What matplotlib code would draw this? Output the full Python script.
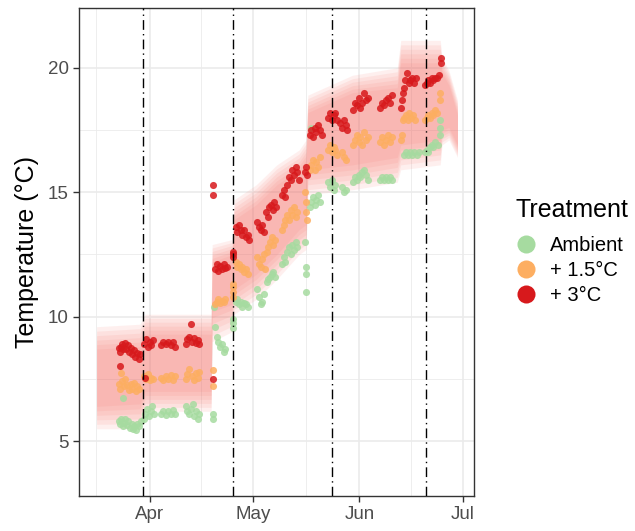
import matplotlib
matplotlib.use('Agg')
import matplotlib.pyplot as plt
import matplotlib.dates as mdates
from matplotlib.lines import Line2D
import numpy as np
from datetime import datetime

plt.rcParams['font.family'] = ['Liberation Sans', 'DejaVu Sans']

# all x values are days after 1 March
START = datetime(2019, 3, 1)

# --- Ambient ---
amb_day = [22.0, 22.4, 22.8, 23.2, 23.6, 24.0, 24.4, 24.8, 25.3, 25.8, 26.2, 26.6, 27.0, 27.5, 28.0, 28.5, 23.2,
           29.3, 29.8, 30.3, 30.8, 31.3, 31.8, 32.2,
           34.3, 35.0, 35.7, 36.4, 37.1, 37.8, 38.5,
           41.5, 42.0, 42.5, 43.0, 43.5, 44.0, 44.5, 45.0, 45.5,
           49.5, 49.5, 49.6, 50.0, 50.5, 51.0, 51.5, 52.0, 52.5, 53.0,
           55.3, 55.3, 55.2,
           56.0, 56.5, 57.0, 57.5, 58.0, 58.5, 59.0, 59.5,
           62.3, 62.8, 63.3, 63.8, 64.3,
           65.0, 65.5, 66.0, 66.5, 67.0, 67.5,
           69.5, 70.0, 70.5, 71.0, 71.5, 72.0, 72.5, 73.0, 73.5, 74.0,
           76.3, 76.4, 76.5, 76.6,
           77.5, 78.0, 78.5, 79.0, 79.5, 80.0, 80.5, 78.0,
           83.0, 83.5, 84.0, 84.5, 85.0, 87.0, 87.5, 88.0,
           90.2, 90.7, 91.2, 91.8, 92.3, 92.8, 93.3, 93.8, 94.4,
           98.0, 98.6, 99.2, 99.8, 100.4, 101.0, 101.6,
           105.0, 105.6, 106.2, 106.8, 107.4, 108.0, 108.6, 109.2,
           111.0, 111.5, 112.0, 112.5, 113.0, 113.5, 114.0, 114.7, 115.4, 115.5, 115.5]
amb_temp = [5.8, 5.7, 5.9, 5.6, 5.75, 5.9, 5.65, 5.8, 5.55, 5.7, 5.5, 5.6, 5.45, 5.7, 5.6, 5.8, 6.75,
            5.9, 6.1, 6.3, 6.0, 6.2, 6.4, 6.1,
            6.1, 6.2, 6.05, 6.2, 6.1, 6.25, 6.1,
            6.4, 6.2, 6.1, 6.3, 6.5, 6.0, 6.2, 5.9, 6.1,
            6.1, 5.9, 10.4, 9.6, 9.2, 9.0, 8.8, 8.9, 8.6, 8.7,
            9.75, 9.55, 9.9,
            10.6, 10.7, 10.5, 10.6, 10.4, 10.55, 10.5, 10.4,
            11.1, 10.8, 10.5, 10.6, 10.9,
            11.4, 11.5, 11.6, 11.7, 11.8, 11.6,
            12.1, 12.4, 12.2, 12.6, 12.8, 12.5, 12.9, 12.7, 13.0, 12.8,
            13.0, 12.0, 11.7, 11.0,
            14.4, 14.6, 14.8, 14.5, 14.7, 14.9, 14.6, 17.6,
            15.4, 15.2, 15.5, 15.1, 15.3, 15.2, 15.0, 15.1,
            15.4, 15.6, 15.5, 15.7, 15.6, 15.8, 15.9, 15.7, 15.5,
            15.5, 15.6, 15.5, 15.6, 15.5, 15.6, 15.5,
            16.5, 16.6, 16.5, 16.6, 16.5, 16.6, 16.5, 16.6,
            16.6, 16.7, 16.6, 16.8, 16.9, 16.8, 17.0, 16.9, 17.3, 17.6, 17.9]

# --- + 1.5°C ---
mid_day = [22.0, 22.5, 23.0, 23.5, 24.0, 24.5, 25.0, 25.5, 26.0, 26.5, 27.0, 27.5, 28.0, 22.8,
           29.5, 30.0, 30.5, 31.0, 31.5, 32.0,
           34.3, 35.0, 35.7, 36.4, 37.1, 37.8, 38.5,
           41.5, 42.0, 42.6, 43.2, 43.8, 44.4, 45.0, 45.5,
           49.5, 49.5,
           50.0, 50.5, 51.0, 51.5, 52.0, 52.5, 53.0,
           55.2, 55.3, 55.3, 55.4,
           56.0, 56.5, 57.0, 57.5, 58.0, 58.5, 59.0, 59.5,
           62.3, 62.8, 63.3, 63.8, 64.3, 64.5,
           65.0, 65.5, 66.0, 66.5, 67.0, 67.5,
           69.5, 70.0, 70.5, 71.0, 71.5, 72.0, 72.5, 73.0, 73.5, 74.0,
           76.3, 76.5, 76.6, 76.8,
           77.5, 78.0, 78.5, 79.0, 79.5, 80.0, 80.5,
           83.0, 83.5, 84.0, 84.5, 85.0, 85.5, 87.0, 87.5, 88.0,
           90.2, 90.7, 91.2, 91.8, 92.3, 92.8, 93.3, 93.8, 94.4,
           98.0, 98.6, 99.2, 99.8, 100.4, 101.0, 101.6,
           104.0, 104.3, 104.6, 105.0, 105.5, 106.0, 106.5, 107.0, 107.5, 108.2,
           111.0, 111.5, 112.0, 112.5, 113.0, 113.5, 114.0, 114.6, 115.4, 115.5]
mid_temp = [7.3, 7.1, 7.4, 7.2, 7.5, 7.25, 7.05, 7.3, 7.1, 7.35, 7.0, 7.2, 7.1, 7.75,
            7.6, 7.5, 7.7, 7.45, 7.55, 7.5,
            7.55, 7.45, 7.6, 7.5, 7.65, 7.45, 7.6,
            7.5, 7.7, 7.9, 7.6, 7.45, 7.75, 7.55, 7.8,
            7.85, 7.2,
            10.5, 10.6, 10.7, 10.55, 10.65, 10.6, 10.7,
            11.3, 11.0, 10.8, 11.2,
            12.2, 12.0, 12.1, 11.9, 12.0, 11.8, 11.9, 11.7,
            12.4, 12.1, 12.0, 12.3, 12.5, 11.9,
            12.6, 12.8, 13.0, 13.2, 12.9, 13.1,
            13.5, 13.7, 13.9, 14.1, 13.9, 14.3, 14.1, 14.4, 14.0, 14.2,
            15.0, 14.6, 14.2, 13.9,
            15.9, 16.1, 16.3, 15.9, 16.2, 16.0, 16.4,
            16.7, 16.9, 16.6, 16.8, 16.7, 16.5, 16.6, 16.4, 16.3,
            16.9, 17.1, 17.3, 17.0, 17.2, 16.9, 17.4, 17.1, 17.2,
            17.0, 17.2, 16.9, 17.1, 17.3, 17.0, 17.2,
            17.1, 17.3, 17.9, 18.0, 18.1, 17.9, 18.2, 18.0, 18.1, 17.9,
            17.9, 18.0, 18.1, 18.0, 18.2, 18.1, 18.3, 18.2, 18.7, 19.0]

# --- + 3°C ---
hot_day = [22.0, 22.3, 22.6, 23.0, 23.4, 23.8, 24.2, 24.6, 25.0, 25.5, 26.0, 26.4, 26.9, 27.3, 27.8, 28.2, 22.4, 29.6,
           29.5, 30.0, 30.5, 31.0, 31.5, 32.0,
           34.3, 35.0, 35.7, 36.4, 37.1, 37.8, 38.5,
           41.5, 42.0, 42.6, 43.2, 43.8, 44.4, 45.0, 45.5, 43.0,
           49.5, 49.5, 49.5,
           50.0, 50.5, 51.0, 51.5, 52.0, 52.5, 53.0, 53.5,
           55.2, 55.3, 55.4,
           56.0, 56.5, 57.0, 57.5, 58.0, 58.5, 59.0, 59.5, 60.0,
           62.3, 62.8, 63.3, 63.8, 64.3,
           64.8, 65.3, 65.8, 66.3, 66.8, 67.3, 67.8,
           69.5, 70.0, 70.5, 71.0, 71.5, 72.0, 72.5, 73.0, 73.5, 74.0, 74.5,
           76.3, 76.5, 76.7,
           77.5, 78.0, 78.5, 79.0, 79.5, 80.0, 80.5, 81.0,
           83.0, 83.5, 84.0, 84.5, 85.0, 85.5, 86.5, 87.0, 87.5, 88.0, 88.4,
           90.2, 90.7, 91.2, 91.8, 92.3, 92.8, 93.3, 93.8, 94.4,
           98.0, 98.6, 99.2, 99.8, 100.4, 101.0, 101.6,
           104.0, 104.3, 104.6, 104.9, 105.2, 105.8, 106.3, 106.8, 107.3, 107.8, 108.4,
           111.0, 111.5, 112.0, 112.5, 113.0, 113.5, 114.0, 114.5, 115.2, 115.6, 115.7]
hot_temp = [8.75, 8.6, 8.8, 8.9, 8.7, 8.95, 8.7, 8.85, 8.6, 8.75, 8.5, 8.65, 8.4, 8.55, 8.3, 8.5, 8.04, 7.55,
            8.9, 9.1, 8.8, 9.0, 8.85, 9.05,
            8.85, 9.0, 8.9, 9.0, 8.85, 9.0, 8.8,
            8.9, 9.1, 9.2, 9.0, 9.15, 8.95, 9.05, 8.9, 9.72,
            7.5, 15.3, 14.9,
            11.9, 12.1, 11.85, 12.05, 11.9, 12.1, 11.95, 12.0,
            12.6, 12.4, 12.5,
            13.6, 13.4, 13.7, 13.5, 13.3, 13.5, 13.2, 13.3, 13.1,
            13.8, 13.6, 13.5, 13.7, 13.4,
            14.2, 14.0, 14.4, 14.5, 14.3, 14.6, 14.4,
            14.9, 15.1, 14.8, 15.3, 15.6, 15.5, 15.9, 15.7, 16.0, 15.8, 15.5,
            15.8, 16.0, 15.7,
            17.3, 17.5, 17.2, 17.6, 17.4, 17.7, 17.5, 17.3,
            18.0, 18.2, 17.9, 18.1, 18.2, 17.9, 17.8, 17.6, 17.9, 17.7, 17.5,
            18.3, 18.6, 18.5, 18.8, 18.4, 18.6, 19.0, 18.7, 18.8,
            18.4, 18.6, 18.5, 18.7, 18.8, 18.6, 18.9,
            18.4, 18.7, 19.0, 19.2, 19.5, 19.8, 19.4, 19.5, 19.6, 19.4, 19.6,
            19.3, 19.4, 19.5, 19.4, 19.6, 19.5, 19.6, 19.6, 19.7, 20.2, 20.4]

# temperature range ribbon (outer faint edge and inner core)
rib_day = [15.6, 28.2, 29.7, 48.9, 49.2, 55.0, 55.6, 62.0, 68.0, 74.5, 76.5, 77.0, 90.0,
           103.0, 104.0, 115.5, 116.0, 118.0, 120.5]
rib_lo_out = [5.5, 5.5, 6.2, 6.2, 9.0, 9.4, 10.1, 10.7, 11.5, 12.5, 12.7, 14.9, 15.1,
              15.4, 15.9, 16.1, 16.9, 17.1, 16.4]
rib_hi_out = [9.6, 9.7, 10.1, 10.1, 12.9, 13.1, 14.7, 15.3, 16.1, 16.7, 17.1, 18.9, 19.7,
              20.0, 21.1, 21.1, 20.4, 19.9, 18.7]
rib_lo_in = [6.4, 6.5, 7.0, 7.0, 10.2, 10.5, 11.1, 11.7, 12.5, 13.5, 13.7, 15.9, 16.1,
             16.4, 16.9, 17.1, 17.5, 17.6, 16.9]
rib_hi_in = [8.7, 8.8, 9.3, 9.3, 12.2, 12.5, 13.9, 14.5, 15.3, 15.9, 16.3, 18.2, 19.0,
             19.2, 20.2, 20.2, 19.8, 19.3, 18.1]

vline_day = [29.2, 55.2, 84.1, 111.3]

labels = ['Ambient', '+ 1.5°C', '+ 3°C']
colors = ['#A6DBA0', '#FDAE61', '#D7191C']

x0 = mdates.date2num(START)

fig = plt.figure(figsize=(6.35, 5.31), dpi=100)
ax = fig.add_axes([79 / 635, 35 / 531, 395 / 635, 488 / 531])

# soft ribbon: stacked translucent layers from the outer edge to the core
rd = x0 + np.array(rib_day)
lo_out, hi_out = np.array(rib_lo_out), np.array(rib_hi_out)
lo_in, hi_in = np.array(rib_lo_in), np.array(rib_hi_in)
for f in np.linspace(0, 1, 6):
    ax.fill_between(rd, lo_out + f * (lo_in - lo_out), hi_out + f * (hi_in - hi_out),
                    color='#F8766D', alpha=0.11, linewidth=0, zorder=1)

series = [(amb_day, amb_temp), (mid_day, mid_temp), (hot_day, hot_temp)]
for (d, t), c in zip(series, colors):
    ax.scatter(x0 + np.array(d), t, s=26, color=c, alpha=0.85, linewidths=0, zorder=3)

for v in vline_day:
    ax.axvline(x0 + v, color='black', linestyle=(0, (7, 3, 1, 3)), linewidth=1.0, zorder=4)

ax.set_xlim(x0 + 10.5, x0 + 125.3)
ax.set_ylim(2.8, 22.4)

ax.xaxis.set_major_locator(mdates.MonthLocator(bymonth=[4, 5, 6, 7]))
ax.xaxis.set_major_formatter(mdates.DateFormatter('%b'))
ax.set_xticks([x0 + 15.5, x0 + 46, x0 + 76.5, x0 + 107], minor=True)
ax.set_yticks([5, 10, 15, 20])
ax.set_yticks([7.5, 12.5, 17.5], minor=True)

ax.grid(which='major', color='#EBEBEB', linewidth=1.2, zorder=0)
ax.grid(which='minor', color='#EBEBEB', linewidth=0.6, zorder=0)
ax.set_axisbelow(True)
for s in ax.spines.values():
    s.set_color('#333333')
    s.set_linewidth(1.0)
ax.tick_params(which='major', length=4.5, width=1, pad=3, color='#333333', labelcolor='#4D4D4D', labelsize=13.5)
ax.tick_params(which='minor', length=0)

ax.set_ylabel('Temperature (°C)', fontsize=18, color='black', labelpad=6)

handles = [Line2D([], [], marker='o', linestyle='', markersize=13, color=c, markeredgewidth=0) for c in colors]
leg = fig.legend(handles, labels, title='Treatment', loc='upper left', bbox_to_anchor=(516 / 635, 1 - 198 / 531),
                 frameon=False, fontsize=14.5, title_fontsize=18, handletextpad=0.7, labelspacing=0.3,
                 borderpad=0, borderaxespad=0, handlelength=1.0)
leg._legend_box.align = 'left'
leg._legend_box.sep = 10

fig.savefig('out.png', dpi=100)
